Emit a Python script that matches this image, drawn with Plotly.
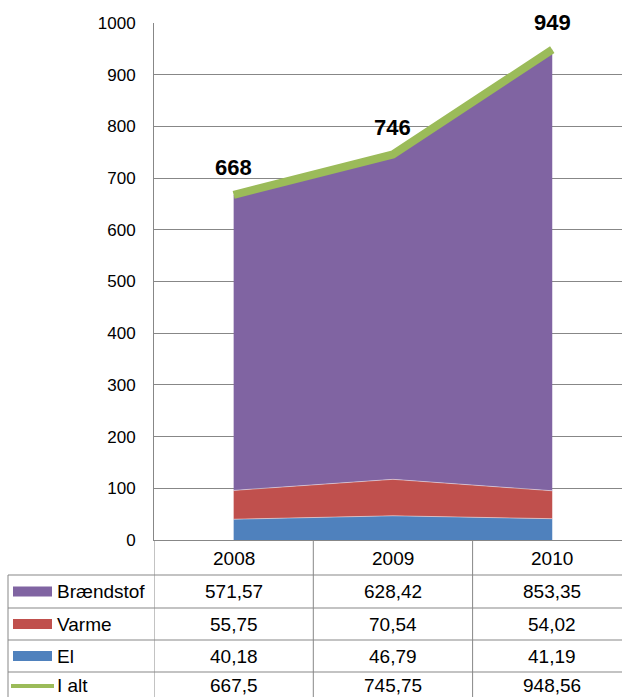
import plotly.graph_objects as go

years = ["2008", "2009", "2010"]
el = [40.18, 46.79, 41.19]
varme = [55.75, 70.54, 54.02]
braendstof = [571.57, 628.42, 853.35]
i_alt = [667.5, 745.75, 948.56]
y_ticks = [0, 100, 200, 300, 400, 500, 600, 700, 800, 900, 1000]

C_PURPLE = "#8064A2"
C_RED = "#C0504D"
C_BLUE = "#4F81BD"
C_GREEN = "#9BBB59"
GRID = "#878787"
FONT = "Liberation Sans, Arial, sans-serif"
TFS = 19

W, H = 622, 697
PL, PT, PB = 154, 23, 540  # plot left, top, bottom in px
PW = W - PL
PH = PB - PT
BAND = 159.3

def px(xp):
    return (xp - PL) / PW

def py(yp):
    return (PB - yp) / PH

xs = list(range(len(years)))
fig = go.Figure()
edge = dict(width=1, color="rgba(255,255,255,0.45)")
fig.add_trace(go.Scatter(x=xs, y=el, stackgroup="s", mode="lines", line=edge,
                         fillcolor=C_BLUE, name="El"))
fig.add_trace(go.Scatter(x=xs, y=varme, stackgroup="s", mode="lines", line=edge,
                         fillcolor=C_RED, name="Varme"))
fig.add_trace(go.Scatter(x=xs, y=braendstof, stackgroup="s", mode="lines", line=edge,
                         fillcolor=C_PURPLE, name="Brændstof"))
fig.add_trace(go.Scatter(x=xs, y=i_alt, mode="lines", line=dict(color=C_GREEN, width=8),
                         name="I alt"))

annotations = []
for i, v in enumerate(i_alt):
    annotations.append(dict(x=i, y=v, xref="x", yref="y", text=str(round(v)),
                            showarrow=False, yshift=27, xanchor="center", yanchor="middle",
                            font=dict(family=FONT, size=22, color="black", weight="bold")))

shapes = []
# table row lines
row_lines = [575, 608, 640, 672]
for r in row_lines:
    shapes.append(dict(type="line", xref="paper", yref="paper", x0=px(8), x1=1,
                       y0=py(r), y1=py(r), line=dict(color=GRID, width=1)))
# vertical lines
shapes.append(dict(type="line", xref="paper", yref="paper", x0=px(8), x1=px(8),
                   y0=py(575), y1=py(H + 5), line=dict(color=GRID, width=1)))
for xv in [-0.5, 0.5, 1.5]:
    shapes.append(dict(type="line", xref="x", yref="paper", x0=xv, x1=xv,
                       y0=0, y1=py(H + 5), line=dict(color=GRID, width=1)))

# header row
for i, yr in enumerate(years):
    annotations.append(dict(x=i, y=py(558), xref="x", yref="paper", text=yr, showarrow=False,
                            xanchor="center", yanchor="middle",
                            font=dict(family=FONT, size=TFS, color="black")))

rows = [("Brændstof", braendstof, C_PURPLE, "rect"),
        ("Varme", varme, C_RED, "rect"),
        ("El", el, C_BLUE, "rect"),
        ("I alt", i_alt, C_GREEN, "line")]
centers = [591.5, 624, 656, 686]
for (name, vals, col, kind), cy in zip(rows, centers):
    if kind == "rect":
        shapes.append(dict(type="rect", xref="paper", yref="paper", x0=px(13), x1=px(52),
                           y0=py(cy - 5), y1=py(cy + 5), fillcolor=col, line=dict(width=0)))
    else:
        shapes.append(dict(type="line", xref="paper", yref="paper", x0=px(11), x1=px(54),
                           y0=py(cy), y1=py(cy), line=dict(color=col, width=4)))
    annotations.append(dict(x=px(55), y=py(cy), xref="paper", yref="paper", text=name,
                            showarrow=False, xanchor="left", yanchor="middle",
                            font=dict(family=FONT, size=TFS, color="black")))
    for i, v in enumerate(vals):
        annotations.append(dict(x=i, y=py(cy), xref="x", yref="paper",
                                text=str(v).replace(".", ","), showarrow=False,
                                xanchor="center", yanchor="middle",
                                font=dict(family=FONT, size=TFS, color="black")))

fig.update_layout(
    width=W, height=H,
    margin=dict(l=PL, r=0, t=PT, b=H - PB, pad=0),
    paper_bgcolor="white", plot_bgcolor="white",
    showlegend=False,
    shapes=shapes, annotations=annotations,
    xaxis=dict(range=[-0.5, -0.5 + PW / BAND], showgrid=False, zeroline=False,
               showticklabels=False, ticks="", showline=True, linecolor=GRID, linewidth=1),
    yaxis=dict(range=[0, 1000], tickvals=y_ticks, showgrid=True, gridcolor=GRID, gridwidth=1,
               zeroline=False, showline=True, linecolor=GRID, linewidth=1,
               ticks="", ticklabelstandoff=14, automargin=False,
               tickfont=dict(family=FONT, size=17, color="black")),
)

fig.write_html("out.html", config={"displayModeBar": False},
               post_script="document.body.style.margin='0px';")
